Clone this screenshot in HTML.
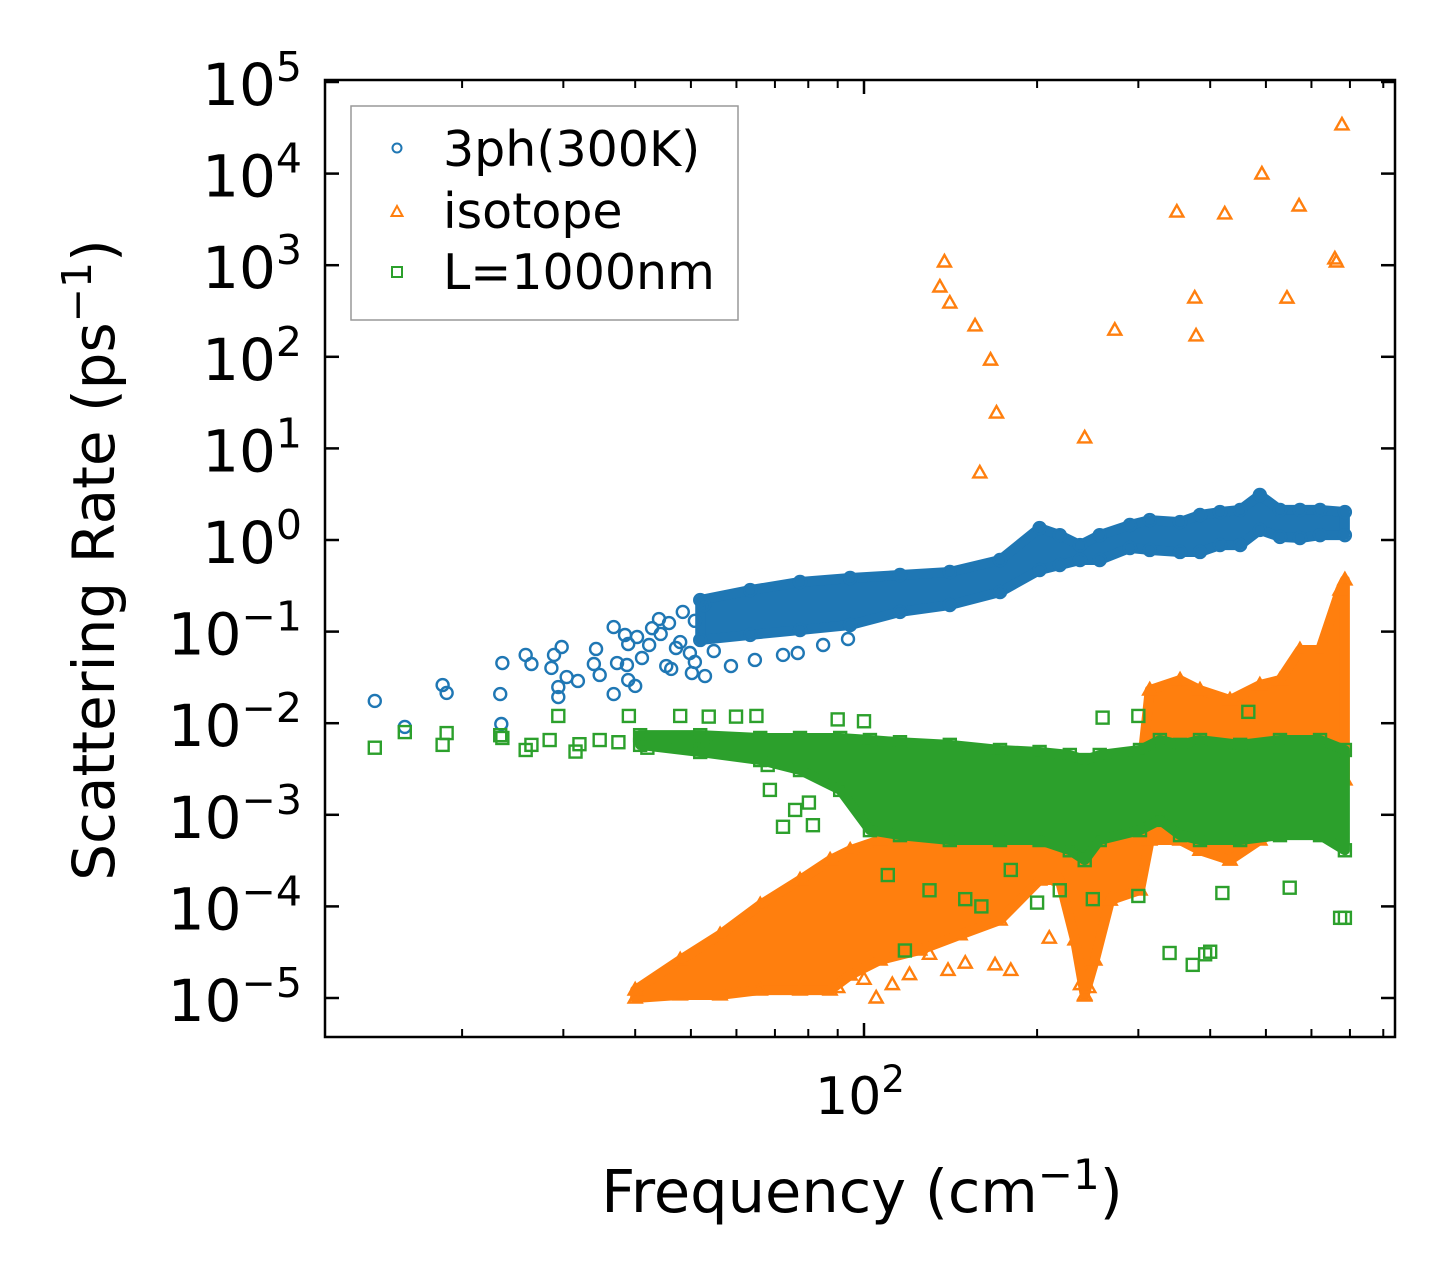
<!DOCTYPE html>
<html><head><meta charset="utf-8"><style>
html,body{margin:0;padding:0;background:#fff;}
svg{display:block;font-family:"DejaVu Sans","Liberation Sans",sans-serif;}
</style></head><body>
<svg id="chart" width="1455" height="1287" viewBox="0 0 1455 1287" xmlns="http://www.w3.org/2000/svg">
<rect x="0" y="0" width="1455" height="1287" fill="#fff"/>
<g id="plot"></g>
<g id="axes"></g>
<text x="862" y="1212" font-size="59" text-anchor="middle">Frequency (cm<tspan dy="-23" font-size="42">−1</tspan><tspan dy="23">)</tspan></text>
<text transform="translate(114,560) rotate(-90)" font-size="58" text-anchor="middle">Scattering Rate (ps<tspan dy="-23" font-size="41">−1</tspan><tspan dy="23">)</tspan></text>
<g>
<rect x="351" y="106" width="387" height="214" fill="#fff" stroke="#999" stroke-width="1.5"/>
<g>
<circle cx="397" cy="148" r="4.5" fill="none" stroke="#1f77b4" stroke-width="2"/>
<text x="443" y="166" font-size="49">3ph(300K)</text></g>
<g>
<polygon points="397,206 402.5,216 391.5,216" fill="none" stroke="#ff7f0e" stroke-width="2"/>
<text x="443" y="228" font-size="49">isotope</text></g>
<g>
<rect x="392" y="267" width="10" height="10" fill="none" stroke="#2ca02c" stroke-width="2"/>
<text x="443" y="289" font-size="49">L=1000nm</text></g>
</g>
</svg>
<script>
// ---- data ----
const blueScatterF=[14.1,15.9,18.5,18.8,23.5,23.3,23.4,25.8,26.4,28.6,28.9,29.8,29.4,29.4,30.4,31.8,33.9,34.2,34.7,36.7,37.2,38.4,38.9,38.7,38.9,40.0,36.7,40.3,41.1,42.3,42.8,44.0,44.3,45.8,45.3,46.2,47.1,47.9,48.4,49.8,50.8,50.2,52.7,52.9,50.8,54.8,58.7,64.6,72.3,76.7,84.9,93.8];
const blueScatterR=[0.0175,0.0091,0.0261,0.0214,0.0454,0.0208,0.0098,0.0556,0.0443,0.0401,0.0556,0.0679,0.0248,0.0193,0.0319,0.0289,0.0443,0.0646,0.0336,0.112,0.0454,0.0918,0.0732,0.0432,0.0296,0.0255,0.0208,0.0873,0.0515,0.0714,0.109,0.137,0.0942,0.124,0.0421,0.0391,0.0662,0.0769,0.164,0.0584,0.0466,0.0353,0.195,0.0327,0.131,0.0614,0.0421,0.049,0.0556,0.0584,0.0714,0.083];
const blueBandF=[51.9,63.4,77.4,94.6,115.5,141,172.4,202,219,237.5,257,290,314,354.5,384,416,451,488,529,573,621,686];
const blueBandHi=[0.221,0.284,0.348,0.385,0.415,0.448,0.605,1.35,1.13,0.88,1.13,1.46,1.65,1.57,1.875,2.02,2.13,3.1,2.13,2.13,2.13,2.02];
const blueBandLo=[0.081,0.092,0.104,0.118,0.164,0.195,0.27,0.47,0.533,0.605,0.605,0.818,0.778,0.74,0.74,0.88,0.88,1.29,1.08,1.05,1.13,1.13];

const orangeBandF=[40,47.9,56.2,66,77.4,87.3,94.6,106.6,125,146.9,172.4,202,219,232.8,242,252,268,302,314,354.5,384,433,488,529,573,621,673,686];
const orangeBandHi=[1.22e-5,2.6e-5,4.9e-5,1.04e-4,1.94e-4,3.2e-4,4.1e-4,5.3e-4,6.0e-4,6.8e-4,8.8e-4,1.28e-3,1.45e-3,1.13e-3,8.8e-4,1.13e-3,1.87e-3,2.4e-3,0.023,0.0296,0.023,0.0179,0.0261,0.0296,0.063,0.063,0.284,0.366];
const orangeBandLo=[1e-5,1.08e-5,1.08e-5,1.22e-5,1.22e-5,1.22e-5,1.78e-5,2.6e-5,3.34e-5,4.9e-5,7.1e-5,1.94e-4,1.94e-4,4.3e-5,1.08e-5,2.6e-5,1.17e-4,1.51e-4,5.3e-4,5.3e-4,4.1e-4,3.2e-4,5.3e-4,6.8e-4,6.8e-4,6.8e-4,1.45e-3,2.4e-3];
const orangeScatterF=[135.5,138,141,156,166,170,159,242,273,350,376,378,424,492,544,571,659,663,678,105,112,169,120,140,180,242,238,246,90,100,130,150,210];
const orangeScatterR=[578,1084,386,217,92,24.3,5.4,13,195,3800,438,169,3630,9900,437,4430,1170,1084,34000,1.0e-5,1.4e-5,2.3e-5,1.8e-5,2.0e-5,2.0e-5,1.05e-5,1.4e-5,1.3e-5,1.3e-5,1.6e-5,3.0e-5,2.4e-5,4.5e-5];

const greenBandF=[40.8,51.9,66,77.4,90.9,102.4,115.5,141,172.4,202,228,242,257,302,327,354.5,384,451,529,621,686];
const greenBandHi=[7.4e-3,7.4e-3,6.9e-3,6.9e-3,6.9e-3,6.55e-3,6.2e-3,5.8e-3,5.1e-3,4.85e-3,4.5e-3,3.96e-3,4.5e-3,5.1e-3,6.55e-3,5.8e-3,6.55e-3,5.8e-3,6.55e-3,6.55e-3,5.1e-3];
const greenBandLo=[5.8e-3,4.85e-3,3.96e-3,3.08e-3,1.87e-3,6.8e-4,6.0e-4,5.3e-4,5.3e-4,5.3e-4,4.1e-4,3.2e-4,5.3e-4,6.8e-4,8.8e-4,6.0e-4,5.3e-4,5.3e-4,6.0e-4,6.0e-4,4.1e-4];
const greenScatterF=[14.1,15.9,18.5,18.8,23.3,23.5,25.8,26.4,28.4,29.4,31.5,32,34.7,37.4,39,41,42,47.9,49.9,52.9,53.7,59.9,65,68,68.6,72.3,75.9,80.2,81.5,117.8,340,373,392,400,219,686,673,466,150,160,250,300,420,550,110,130,90,100,260,300,200,180];
const greenScatterR=[0.0054,0.0080,0.0058,0.0078,0.0074,0.0069,0.0051,0.0058,0.00655,0.012,0.0049,0.0059,0.00655,0.0062,0.012,0.0069,0.0054,0.012,0.00655,0.0067,0.0118,0.0118,0.012,0.0035,0.00187,0.00074,0.00113,0.00136,0.00077,3.3e-5,3.1e-5,2.3e-5,3.0e-5,3.2e-5,1.5e-4,7.5e-5,7.5e-5,0.0133,1.2e-4,1.0e-4,1.2e-4,1.3e-4,1.4e-4,1.6e-4,2.2e-4,1.5e-4,0.011,0.0105,0.0115,0.012,1.1e-4,2.5e-4];

const yTickExp=[5,4,3,2,1,0,-1,-2,-3,-4,-5];
const xMinorTicks=[20,30,40,50,60,70,80,90,200,300,400,500,600,700,800];
const xMajorTicks=[100];

// ---- scales ----
const L=325,R=1395,T=80,B=1037;
function xs(f){return 864+575*(Math.log10(f)-2);}
function ys(r){return 540-91.6*Math.log10(r);}
const NS="http://www.w3.org/2000/svg";
const plot=document.getElementById('plot');
const axes=document.getElementById('axes');
function mk(tag,attrs,parent){const e=document.createElementNS(NS,tag);for(const k in attrs)e.setAttribute(k,attrs[k]);parent.appendChild(e);return e;}

const COL={blue:'#1f77b4',orange:'#ff7f0e',green:'#2ca02c'};
function marker(kind,x,y,g){
  let e;
  if(kind==='blue') e=mk('circle',{cx:x,cy:y,r:6,fill:'none',stroke:COL.blue,'stroke-width':2.4},g);
  else if(kind==='orange') e=mk('polygon',{points:`${x},${y-7} ${x+6.5},${y+4.5} ${x-6.5},${y+4.5}`,fill:'none',stroke:COL.orange,'stroke-width':2.4},g);
  else e=mk('rect',{x:x-6,y:y-6,width:12,height:12,fill:'none',stroke:COL.green,'stroke-width':2.4},g);
  return e;
}
function drawSeries(kind,bF,bHi,bLo,sF,sR){
  const g=mk('g',{},plot);
  
  
  let pts=[];
  for(let i=0;i<bF.length;i++)pts.push(xs(bF[i])+','+ys(bHi[i]));
  for(let i=bF.length-1;i>=0;i--)pts.push(xs(bF[i])+','+ys(bLo[i]));
  const band=mk('polygon',{points:pts.join(' '),fill:COL[kind],stroke:COL[kind],'stroke-width':10,'stroke-linejoin':'round'},g);
  
  
  for(let i=0;i<bF.length;i++){
    const m1=marker(kind,xs(bF[i]),ys(bHi[i]),g);
    
    
    const m2=marker(kind,xs(bF[i]),ys(bLo[i]),g);
    
    
  }
  for(let i=0;i<sF.length;i++){
    const m=marker(kind,xs(sF[i]),ys(sR[i]),g);
    
    
  }
}
drawSeries('blue',blueBandF,blueBandHi,blueBandLo,blueScatterF,blueScatterR);
drawSeries('orange',orangeBandF,orangeBandHi,orangeBandLo,orangeScatterF,orangeScatterR);
drawSeries('green',greenBandF,greenBandHi,greenBandLo,greenScatterF,greenScatterR);

// ---- axes ----
const frame=mk('rect',{x:L,y:T,width:R-L,height:B-T,fill:'none',stroke:'#000','stroke-width':2.5},axes);


yTickExp.forEach(e=>{
  const y=ys(Math.pow(10,e));
  mk('line',{x1:L,x2:L+14,y1:y,y2:y,stroke:'#000','stroke-width':2.5},axes);
  mk('line',{x1:R,x2:R-14,y1:y,y2:y,stroke:'#000','stroke-width':2.5},axes);
  const t=mk('text',{x:302,y:y+23,'font-size':58,'text-anchor':'end'},axes);
  
  
  const s=(e<0?'−':'')+Math.abs(e);
  const t1=mk('tspan',{},t);t1.textContent='10';
  const t2=mk('tspan',{dy:-24,'font-size':41},t);t2.textContent=s;
});
xMinorTicks.forEach(f=>{
  const x=xs(f);
  mk('line',{x1:x,x2:x,y1:B,y2:B-8,stroke:'#000','stroke-width':2},axes);
  mk('line',{x1:x,x2:x,y1:T,y2:T+8,stroke:'#000','stroke-width':2},axes);
});
xMajorTicks.forEach(f=>{
  const x=xs(f);
  mk('line',{x1:x,x2:x,y1:B,y2:B-14,stroke:'#000','stroke-width':2.5},axes);
  mk('line',{x1:x,x2:x,y1:T,y2:T+14,stroke:'#000','stroke-width':2.5},axes);
  const t=mk('text',{x:x-4,y:1114,'font-size':52,'text-anchor':'middle'},axes);
  
  
  const t1=mk('tspan',{},t);t1.textContent='10';
  const t2=mk('tspan',{dy:-22,'font-size':37},t);t2.textContent=String(Math.round(Math.log10(f)));
});
</script>
</body></html>
